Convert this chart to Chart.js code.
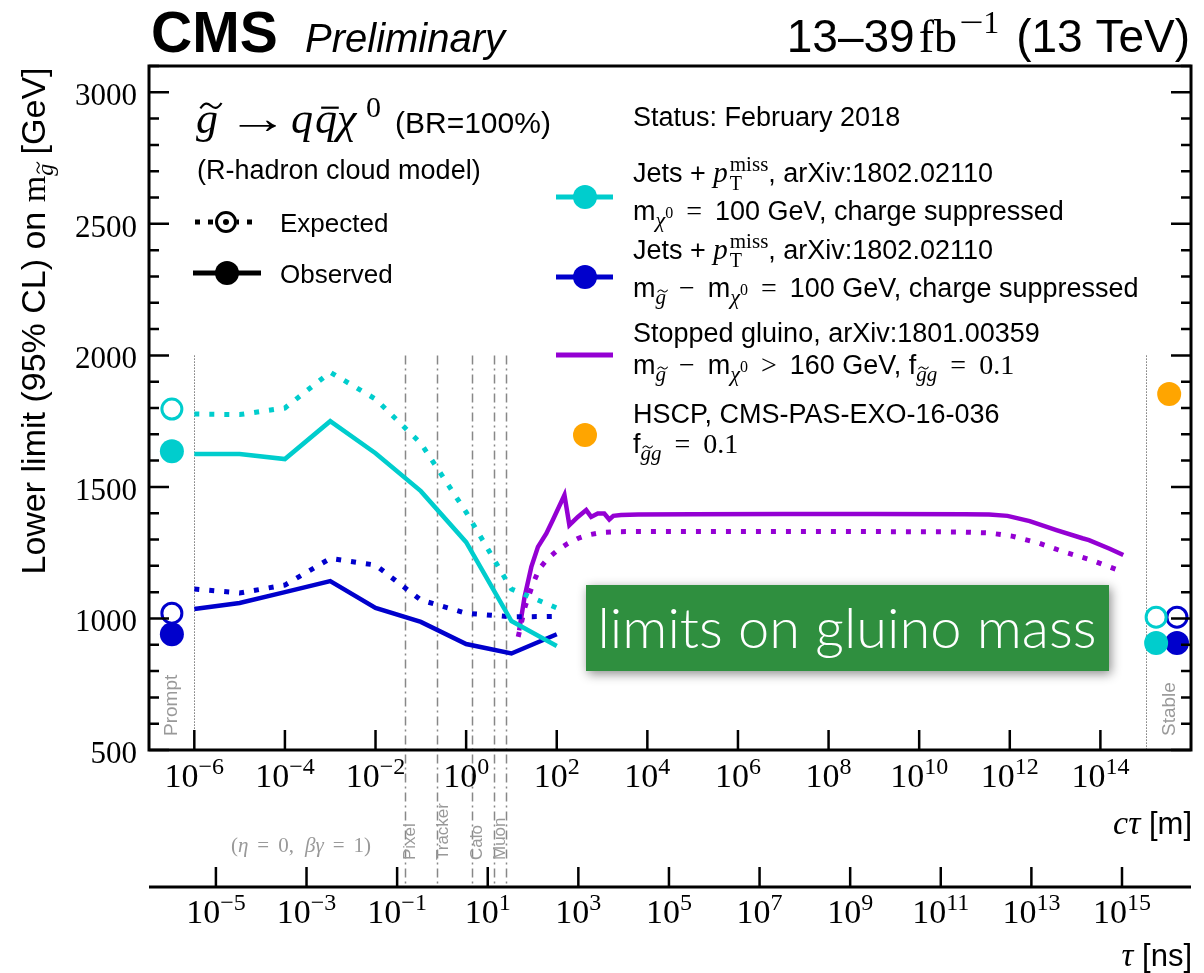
<!DOCTYPE html>
<html>
<head>
<meta charset="utf-8">
<title>Gluino mass limits vs lifetime</title>
<script src="https://cdn.jsdelivr.net/npm/chart.js@4.4.1/dist/chart.umd.min.js"></script>
<style>
  html, body { margin: 0; padding: 0; background: #fff; }
  #wrap { width: 1204px; height: 973px; }
</style>
</head>
<body>
<div id="wrap"><canvas id="limitChart" width="1204" height="973"></canvas></div>
<script>
// --- limits from the jets + MET reinterpretation (arXiv:1802.02110), c*tau in m
const jetsCtau   = [1e-6, 1e-5, 1e-4, 1e-3, 1e-2, 1e-1, 1, 10, 100];
const mchiObs    = [1625, 1625, 1606, 1750, 1628, 1484, 1290, 990, 895];
const mchiExp    = [1777, 1775, 1800, 1936, 1834, 1666, 1404, 1112, 1040];
const dmObs      = [1036, 1059, 1100, 1142, 1040, 987, 903, 867, 940];
const dmExp      = [1112, 1097, 1127, 1228, 1203, 1070, 1020, 1006, 1008];

// --- stopped gluino search (arXiv:1801.00359)
const stopObsCtau = [14.8, 19.5, 27.5, 38.5, 59, 82, 148, 190, 292, 447, 575, 804, 1120, 1445, 1780,
                     2630, 6300, 1e5, 1e7, 1e9, 1e11, 3.5e11, 8.9e11, 2.75e12, 1.07e13, 4e13, 5.6e13, 1.6e14, 3.2e14];
const stopObs     = [955, 1082, 1196, 1272, 1323, 1374, 1469, 1355, 1386, 1412, 1386, 1399, 1399, 1376, 1390,
                     1393, 1395, 1396, 1397, 1397, 1396, 1395, 1390, 1370, 1336, 1305, 1298, 1265, 1241];
const stopExpCtau = [14.1, 20, 30, 41.7, 63.8, 106, 176, 292, 484, 955, 2240, 1e5, 1e8,
                     7.4e10, 3.55e11, 1.12e12, 4.27e12, 1.58e13, 6.3e13, 3e14];
const stopExp     = [930, 1045, 1133, 1190, 1228, 1260, 1285, 1304, 1317, 1327, 1330, 1331, 1331,
                     1329, 1325, 1313, 1287, 1253, 1222, 1178];

// --- prompt and stable end points: [m_chi = 100 GeV, dm = 100 GeV]
const promptCtau = [3.2e-7, 3.2e-7];
const promptObs  = [1636, 940];
const promptExp  = [1796, 1020];
const stableCtau = [1.7e15, 4.9e15];
const stableObs  = [907, 907];
const stableExp  = [1005, 1005];

// --- HSCP search (CMS-PAS-EXO-16-036)
const hscpCtau = [3.3e15];
const hscpMass = [1853];

// --- axes and detector boundaries
const yTicks      = [500, 1000, 1500, 2000, 2500, 3000];
const ctauExps    = [-6, -4, -2, 0, 2, 4, 6, 8, 10, 12, 14];
const tauExps     = [-5, -3, -1, 1, 3, 5, 7, 9, 11, 13, 15];
const detCtau     = [0.044, 0.23, 1.33, 4.1, 7.5];
const detNames    = ['Pixel', 'Tracker', 'Calo', 'Muon'];
const C_M_PER_NS  = 0.2998;

const CYAN = '#00cdcd', BLUE = '#0000cc', PURPLE = '#9400d3', ORANGE = '#ffa500', GREY = '#999';
const SANS = '"Liberation Sans", Arial, Helvetica, sans-serif';
const SERIF = '"Liberation Serif", "DejaVu Serif", serif';
const fnt = (size, fam, style) => ((style || '') + ' ' + size + 'px ' + fam).trim();

const pts = (xs, ys) => xs.map((x, i) => ({ x: x, y: ys[i] }));

function lineSet(xs, ys, color, dotted) {
  return {
    data: pts(xs, ys), borderColor: color, borderWidth: dotted ? 5 : 4.5,
    borderDash: dotted ? [5, 10] : [], borderCapStyle: 'butt', borderJoinStyle: 'miter',
    pointRadius: 0, tension: 0, fill: false
  };
}
function markSet(xs, ys, color, open) {
  return {
    data: pts(xs, ys), showLine: false, pointStyle: 'circle',
    pointRadius: open ? 10 : 12, pointBorderWidth: open ? 3 : 0,
    pointBackgroundColor: open ? 'rgba(0,0,0,0)' : color, pointBorderColor: color
  };
}

// wide tilde over a glyph
function tilde(ctx, x, y, w, lw) {
  const a = w * 0.13;
  ctx.save();
  ctx.lineWidth = lw; ctx.strokeStyle = ctx.fillStyle;
  ctx.beginPath();
  ctx.moveTo(x, y + a);
  ctx.bezierCurveTo(x + w * 0.2, y - a * 1.4, x + w * 0.35, y - a, x + w * 0.5, y);
  ctx.bezierCurveTo(x + w * 0.65, y + a, x + w * 0.8, y + a * 1.4, x + w, y - a);
  ctx.stroke();
  ctx.restore();
}

// draw a run of text pieces with differing fonts / offsets
// piece: t text, f font, dy baseline shift, pl/pr extra space, sx horizontal stretch,
//        stack (next piece shares the same x), at (absolute offset from x), tilde / bar accents
function runs(ctx, x, y, parts, align) {
  const widths = parts.map(p => { ctx.font = p.f; return ctx.measureText(p.t).width * (p.sx || 1); });
  let total = 0, stackW = 0;
  parts.forEach((p, i) => {
    if (p.at !== undefined) total = p.at;
    if (p.stack) { stackW = widths[i]; return; }
    total += (p.pl || 0) + Math.max(widths[i], stackW) + (p.pr || 0); stackW = 0;
  });
  const x0 = align === 'right' ? x - total : align === 'center' ? x - total / 2 : x;
  let cx = x0;
  stackW = 0;
  parts.forEach((p, i) => {
    if (p.at !== undefined) cx = x0 + p.at;
    cx += p.pl || 0;
    ctx.font = p.f;
    const by = y + (p.dy || 0);
    if (p.sx) {
      ctx.save(); ctx.translate(cx, by); ctx.scale(p.sx, 1); ctx.fillText(p.t, 0, 0); ctx.restore();
    } else {
      ctx.fillText(p.t, cx, by);
    }
    if (p.tilde) tilde(ctx, cx + p.s * 0.1, by - p.s * 0.62, p.s * 0.48, Math.max(1, p.s * 0.05));
    if (p.bar) ctx.fillRect(cx + p.s * 0.14, by - p.s * 0.6, p.s * 0.4, Math.max(1, p.s * 0.05));
    if (p.stack) { stackW = widths[i]; cx -= p.pl || 0; return; }
    cx += Math.max(widths[i], stackW) + (p.pr || 0); stackW = 0;
  });
  return total;
}

// pieces shared by the legend entries
const LS = 27;
const SUB = 21, SUBSUB = 16;
const mGluino = [
  { t: 'm', f: fnt(LS, SANS) },
  { t: 'g', f: fnt(SUB, SERIF, 'italic'), dy: 7, tilde: true, s: SUB }
];
const mChi = [
  { t: 'm', f: fnt(LS, SANS) },
  { t: 'χ', f: fnt(SUB + 1, SERIF, 'italic'), dy: 7 },
  { t: '0', f: fnt(SUBSUB, SERIF), dy: -2 }
];
const fgg = [
  { t: 'g', f: fnt(SUB, SERIF, 'italic'), dy: 7, tilde: true, s: SUB },
  { t: 'g', f: fnt(SUB, SERIF, 'italic'), dy: 7 }
];
const ptMiss = [
  { t: 'p', f: fnt(LS + 2, SERIF, 'italic'), pr: 2 },
  { t: 'miss', f: fnt(21, SERIF), dy: -11, stack: true },
  { t: 'T', f: fnt(20, SERIF), dy: 8 }
];
const rel = s => ({ t: s, f: fnt(LS + 1, SERIF), pl: 13, pr: 13 });
const num = s => ({ t: s, f: fnt(LS + 1, SERIF) });
const sans = s => ({ t: s, f: fnt(LS, SANS) });

const overlay = {
  id: 'overlay',
  beforeDatasetsDraw(chart) {
    const { ctx, chartArea: a, scales: { x, y } } = chart;
    const top = y.getPixelForValue(2000);
    ctx.save();
    // detector boundaries, carried down to the tau axis
    ctx.strokeStyle = '#888'; ctx.lineWidth = 1.5; ctx.setLineDash([9, 4, 2, 4]);
    detCtau.forEach(v => {
      const px = Math.round(x.getPixelForValue(v)) + 0.5;
      ctx.beginPath(); ctx.moveTo(px, top); ctx.lineTo(px, 887); ctx.stroke();
    });
    // prompt / stable boundaries
    ctx.strokeStyle = '#777'; ctx.lineWidth = 1; ctx.setLineDash([1.5, 1.5]);
    [1e-6, 1e15].forEach(v => {
      const px = Math.round(x.getPixelForValue(v)) + 0.5;
      ctx.beginPath(); ctx.moveTo(px, top); ctx.lineTo(px, a.bottom); ctx.stroke();
    });
    ctx.restore();
  },
  afterDatasetsDraw(chart) {
    const { ctx, chartArea: a, scales: { x, y, tau } } = chart;
    ctx.save();
    ctx.fillStyle = '#000'; ctx.strokeStyle = '#000';

    // frame
    ctx.lineWidth = 3;
    ctx.strokeRect(a.left, a.top, a.right - a.left, a.bottom - a.top);

    // y ticks on both sides
    ctx.lineWidth = 2.5;
    for (let v = 500; v <= 3100; v += 100) {
      const py = y.getPixelForValue(v), len = v % 500 === 0 ? 20 : 10;
      ctx.beginPath();
      ctx.moveTo(a.left, py); ctx.lineTo(a.left + len, py);
      ctx.moveTo(a.right, py); ctx.lineTo(a.right - len, py);
      ctx.stroke();
    }
    ctx.font = fnt(31, SERIF); ctx.textAlign = 'right'; ctx.textBaseline = 'alphabetic';
    yTicks.forEach(v => ctx.fillText(String(v), 137, y.getPixelForValue(v) + 13));

    // c*tau axis ticks and labels
    ctx.textAlign = 'left';
    ctauExps.forEach(e => {
      const px = x.getPixelForValue(Math.pow(10, e));
      ctx.beginPath(); ctx.moveTo(px, a.bottom); ctx.lineTo(px, a.bottom - 20); ctx.stroke();
      runs(ctx, px, 787, [
        { t: '10', f: fnt(34, SERIF) },
        { t: (e < 0 ? '−' : '') + Math.abs(e), f: fnt(24, SERIF), dy: -13 }
      ], 'center');
    });

    // tau axis
    const ty = 887;
    ctx.lineWidth = 3;
    ctx.beginPath(); ctx.moveTo(a.left, ty); ctx.lineTo(a.right, ty); ctx.stroke();
    ctx.lineWidth = 2.5;
    tauExps.forEach(e => {
      const px = tau.getPixelForValue(Math.pow(10, e));
      ctx.beginPath(); ctx.moveTo(px, ty); ctx.lineTo(px, ty - 20); ctx.stroke();
      runs(ctx, px, 923, [
        { t: '10', f: fnt(34, SERIF) },
        { t: (e < 0 ? '−' : '') + Math.abs(e), f: fnt(24, SERIF), dy: -13 }
      ], 'center');
    });

    // axis titles
    runs(ctx, 1192, 834, [{ t: 'cτ', f: fnt(34, SERIF, 'italic') }, { t: ' [m]', f: fnt(31, SANS) }], 'right');
    runs(ctx, 1192, 966, [{ t: 'τ', f: fnt(33, SERIF, 'italic') }, { t: ' [ns]', f: fnt(31, SANS) }], 'right');
    ctx.save();
    ctx.translate(45, 321); ctx.rotate(-Math.PI / 2);
    runs(ctx, 0, 0, [
      { t: 'Lower limit (95% CL) on ', f: fnt(34, SANS) },
      { t: 'm', f: fnt(34, SERIF) },
      { t: 'g', f: fnt(24, SERIF, 'italic'), dy: 8, tilde: true, s: 24 },
      { t: ' [GeV]', f: fnt(34, SANS) }
    ], 'center');
    ctx.restore();

    // header
    ctx.font = fnt(57, SANS, 'bold'); ctx.fillText('CMS', 151, 52);
    ctx.font = fnt(40, SANS, 'italic'); ctx.fillText('Preliminary', 305, 52);
    runs(ctx, 1190, 52, [
      { t: '13–39', f: fnt(46, SANS), pr: 4 },
      { t: 'fb', f: fnt(46, SERIF) },
      { t: '−', f: fnt(32, SERIF), dy: -19, pl: 2, sx: 1.35 },
      { t: '1', f: fnt(32, SERIF), dy: -19, pr: 4 },
      { t: ' (13 TeV)', f: fnt(46, SANS) }
    ], 'right');

    // detector and region labels
    ctx.fillStyle = GREY;
    ctx.font = fnt(17, SANS); ctx.textBaseline = 'middle'; ctx.textAlign = 'left';
    detNames.forEach((n, i) => {
      ctx.save();
      ctx.translate(x.getPixelForValue(detCtau[i]) + 6, 860); ctx.rotate(-Math.PI / 2);
      ctx.fillText(n, 0, 0);
      ctx.restore();
    });
    ctx.font = fnt(19, SANS);
    [['Prompt', 172], ['Stable', 1170]].forEach(([n, px]) => {
      ctx.save(); ctx.translate(px, 736); ctx.rotate(-Math.PI / 2); ctx.fillText(n, 0, 0); ctx.restore();
    });
    ctx.textBaseline = 'alphabetic';
    runs(ctx, 301, 852, [
      { t: '(', f: fnt(21, SERIF) }, { t: 'η', f: fnt(21, SERIF, 'italic') },
      { t: '=', f: fnt(21, SERIF), pl: 9, pr: 9 }, { t: '0,', f: fnt(21, SERIF), pr: 11 },
      { t: 'βγ', f: fnt(21, SERIF, 'italic') },
      { t: '=', f: fnt(21, SERIF), pl: 9, pr: 9 }, { t: '1)', f: fnt(21, SERIF) }
    ], 'center');

    // model legend
    ctx.fillStyle = '#000';
    runs(ctx, 196, 133, [
      { t: 'g', f: fnt(44, SERIF, 'italic'), tilde: true, s: 44 },
      { t: '→', f: fnt(44, SERIF), sx: 1.4, at: 31 },
      { t: 'q', f: fnt(44, SERIF, 'italic'), at: 95 },
      { t: 'q', f: fnt(44, SERIF, 'italic'), bar: true, s: 44, at: 119 },
      { t: 'χ', f: fnt(44, SERIF, 'italic'), at: 141 },
      { t: '0', f: fnt(30, SERIF), dy: -16, at: 170 },
      { t: '(BR=100%)', f: fnt(30, SANS), at: 199 }
    ], 'left');
    ctx.font = fnt(27, SANS); ctx.fillText('(R-hadron cloud model)', 197, 179);
    ctx.lineWidth = 5;
    ctx.setLineDash([5, 8]);
    ctx.beginPath(); ctx.moveTo(195, 222); ctx.lineTo(258, 222); ctx.stroke();
    ctx.setLineDash([]);
    ctx.fillStyle = '#fff';
    ctx.beginPath(); ctx.arc(226, 222, 11, 0, Math.PI * 2); ctx.fill();
    ctx.fillStyle = '#000'; ctx.lineWidth = 3;
    ctx.beginPath(); ctx.arc(226, 222, 9.5, 0, Math.PI * 2); ctx.stroke();
    ctx.beginPath(); ctx.arc(226, 222, 3, 0, Math.PI * 2); ctx.fill();
    ctx.lineWidth = 5;
    ctx.beginPath(); ctx.moveTo(193, 273); ctx.lineTo(261, 273); ctx.stroke();
    ctx.beginPath(); ctx.arc(227, 273, 12, 0, Math.PI * 2); ctx.fill();
    ctx.font = fnt(26, SANS);
    ctx.fillText('Expected', 280, 232);
    ctx.fillText('Observed', 280, 283);

    // analysis legend
    ctx.font = fnt(LS, SANS); ctx.fillText('Status: February 2018', 633, 126);
    const LX = 633;
    runs(ctx, LX, 182, [sans('Jets + ')].concat(ptMiss, [sans(', arXiv:1802.02110')]));
    runs(ctx, LX, 220, mChi.concat([rel('='), sans('100 GeV, charge suppressed')]));
    runs(ctx, LX, 259, [sans('Jets + ')].concat(ptMiss, [sans(', arXiv:1802.02110')]));
    runs(ctx, LX, 297, mGluino.concat([rel('−')], mChi, [rel('='), sans('100 GeV, charge suppressed')]));
    runs(ctx, LX, 342, [sans('Stopped gluino, arXiv:1801.00359')]);
    runs(ctx, LX, 374, mGluino.concat([rel('−')], mChi, [rel('>'), sans('160 GeV, f')], fgg, [rel('='), num('0.1')]));
    runs(ctx, LX, 423, [sans('HSCP, CMS-PAS-EXO-16-036')]);
    runs(ctx, LX, 453, [sans('f')].concat(fgg, [rel('='), num('0.1')]));
    [[CYAN, 197, true], [BLUE, 277, true], [PURPLE, 355, false], [ORANGE, 435, null]].forEach(([c, py, dot]) => {
      ctx.strokeStyle = c; ctx.fillStyle = c; ctx.lineWidth = 5;
      if (dot !== null) { ctx.beginPath(); ctx.moveTo(556, py); ctx.lineTo(613, py); ctx.stroke(); }
      if (dot !== false) { ctx.beginPath(); ctx.arc(585, py, 12, 0, Math.PI * 2); ctx.fill(); }
    });

    // banner
    ctx.save();
    ctx.shadowColor = 'rgba(0,0,0,0.45)'; ctx.shadowBlur = 10; ctx.shadowOffsetX = 2; ctx.shadowOffsetY = 3;
    ctx.fillStyle = '#2f8f3f';
    ctx.fillRect(586, 585, 523, 86);
    ctx.restore();
    ctx.fillStyle = '#fff'; ctx.textAlign = 'center';
    ctx.font = fnt(56, '"Lato Light", "Roboto Light", "Open Sans Light", Roboto, sans-serif', '300');
    ctx.fillText('limits on gluino mass', 847, 648);

    ctx.restore();
  }
};

new Chart(document.getElementById('limitChart'), {
  type: 'line',
  data: {
    datasets: [
      lineSet(jetsCtau, mchiExp, CYAN, true),
      lineSet(jetsCtau, mchiObs, CYAN, false),
      lineSet(jetsCtau, dmExp, BLUE, true),
      lineSet(jetsCtau, dmObs, BLUE, false),
      lineSet(stopExpCtau, stopExp, PURPLE, true),
      lineSet(stopObsCtau, stopObs, PURPLE, false),
      markSet([promptCtau[0], stableCtau[0]], [promptExp[0], stableExp[0]], CYAN, true),
      markSet([promptCtau[0], stableCtau[0]], [promptObs[0], stableObs[0]], CYAN, false),
      markSet([promptCtau[1], stableCtau[1]], [promptExp[1], stableExp[1]], BLUE, true),
      markSet([promptCtau[1], stableCtau[1]], [promptObs[1], stableObs[1]], BLUE, false),
      markSet(hscpCtau, hscpMass, ORANGE, false)
    ]
  },
  options: {
    responsive: false,
    animation: false,
    devicePixelRatio: 1,
    layout: { padding: { left: 149, right: 10, top: 66, bottom: 223 } },
    scales: {
      x: { type: 'logarithmic', min: 1e-7, max: 1e16, display: false },
      tau: { type: 'logarithmic', axis: 'x', position: 'bottom', min: 1e-7 / C_M_PER_NS, max: 1e16 / C_M_PER_NS, display: false },
      y: { type: 'linear', min: 500, max: 3100, display: false }
    },
    plugins: { legend: { display: false }, tooltip: { enabled: false } }
  },
  plugins: [overlay]
});
</script>
</body>
</html>
